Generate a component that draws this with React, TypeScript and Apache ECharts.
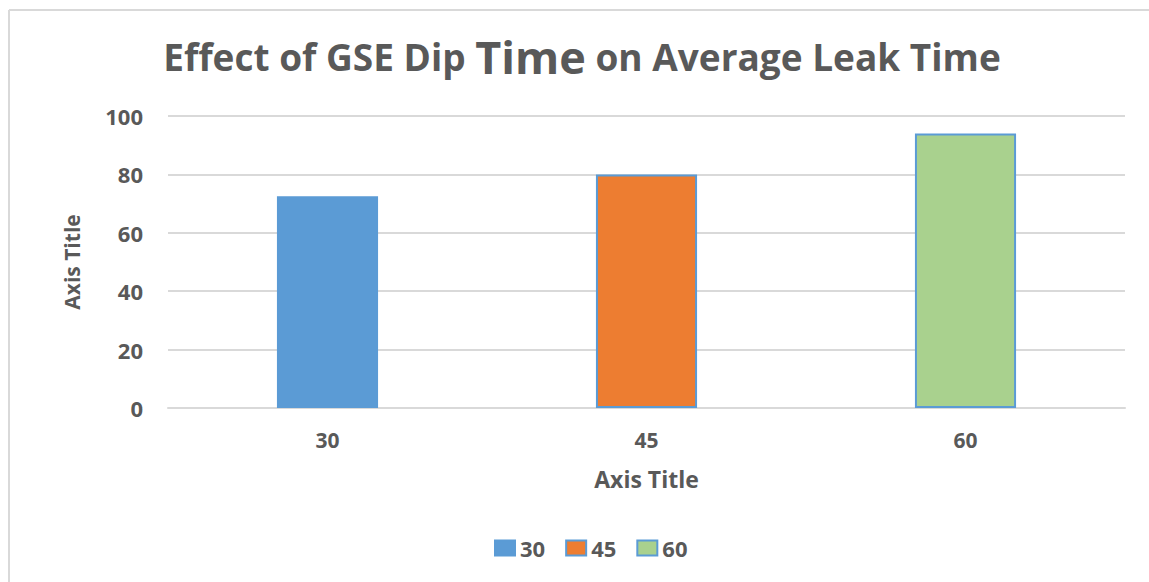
import React, { useEffect, useRef } from "react";
import * as echarts from "echarts";

const categories = ["30", "45", "60"];
const seriesNames = ["30", "45", "60"];
const seriesValues: (number | string)[][] = [
  [72.5, "-", "-"],
  ["-", 80, "-"],
  ["-", "-", 94],
];
const seriesColors = ["#5B9BD5", "#ED7D31", "#A9D18E"];
const yTicks = { min: 0, max: 100, interval: 20 };

const FONT = "'Open Sans', sans-serif";
const GRAY = "#595959";

export default function App() {
  const ref = useRef<HTMLDivElement>(null);
  useEffect(() => {
    if (!ref.current) return;
    const chart = echarts.init(ref.current, undefined, { renderer: "svg" });
    chart.setOption({
      animation: false,
      backgroundColor: "#ffffff",
      title: {
        text: "{a|Effect of GSE Dip }{b|Time}{a| on Average Leak Time}",
        left: 577,
        textAlign: "center",
        top: 29,
        textStyle: {
          rich: {
            a: { fontFamily: FONT, fontWeight: "bold", fontSize: 37, color: GRAY },
            b: { fontFamily: FONT, fontWeight: "bold", fontSize: 45, color: GRAY },
          },
        },
      },
      legend: {
        bottom: 18,
        left: 489,
        icon: "rect",
        itemWidth: 20,
        itemHeight: 15,
        itemGap: 20,
        data: seriesNames,
        textStyle: { fontFamily: FONT, fontWeight: "bold", fontSize: 22, color: GRAY },
      },
      grid: { left: 168, right: 24, top: 116, bottom: 174, containLabel: false },
      xAxis: {
        type: "category",
        data: categories,
        name: "Axis Title",
        nameLocation: "middle",
        nameGap: 59,
        nameTextStyle: { fontFamily: FONT, fontWeight: "bold", fontSize: 23, color: GRAY },
        axisLine: { lineStyle: { color: "#d9d9d9", width: 2 } },
        axisTick: { show: false },
        axisLabel: { fontFamily: FONT, fontWeight: "bold", fontSize: 21, color: GRAY, margin: 21 },
      },
      yAxis: {
        type: "value",
        min: yTicks.min,
        max: yTicks.max,
        interval: yTicks.interval,
        name: "Axis Title",
        nameLocation: "middle",
        nameGap: 86,
        nameTextStyle: { fontFamily: FONT, fontWeight: "bold", fontSize: 21, color: GRAY },
        axisLine: { show: false },
        axisTick: { show: false },
        splitLine: { lineStyle: { color: "#d9d9d9", width: 2 } },
        axisLabel: { fontFamily: FONT, fontWeight: "bold", fontSize: 22, color: GRAY, margin: 25 },
      },
      series: seriesNames.map((n, i) => ({
        name: n,
        type: "bar",
        stack: "all",
        barWidth: "31.7%",
        data: seriesValues[i],
        itemStyle: { color: seriesColors[i], borderColor: "#5B9BD5", borderWidth: 2 },
      })),
      graphic: [
        { type: "line", shape: { x1: 9, y1: 10, x2: 1149, y2: 10 }, style: { stroke: "#d9d9d9", lineWidth: 2 } },
        { type: "line", shape: { x1: 9, y1: 10, x2: 9, y2: 582 }, style: { stroke: "#d9d9d9", lineWidth: 2 } },
      ],
    });
    return () => chart.dispose();
  }, []);
  return <div ref={ref} style={{ position: "fixed", left: 0, top: 0, width: 1149, height: 582 }} />;
}
